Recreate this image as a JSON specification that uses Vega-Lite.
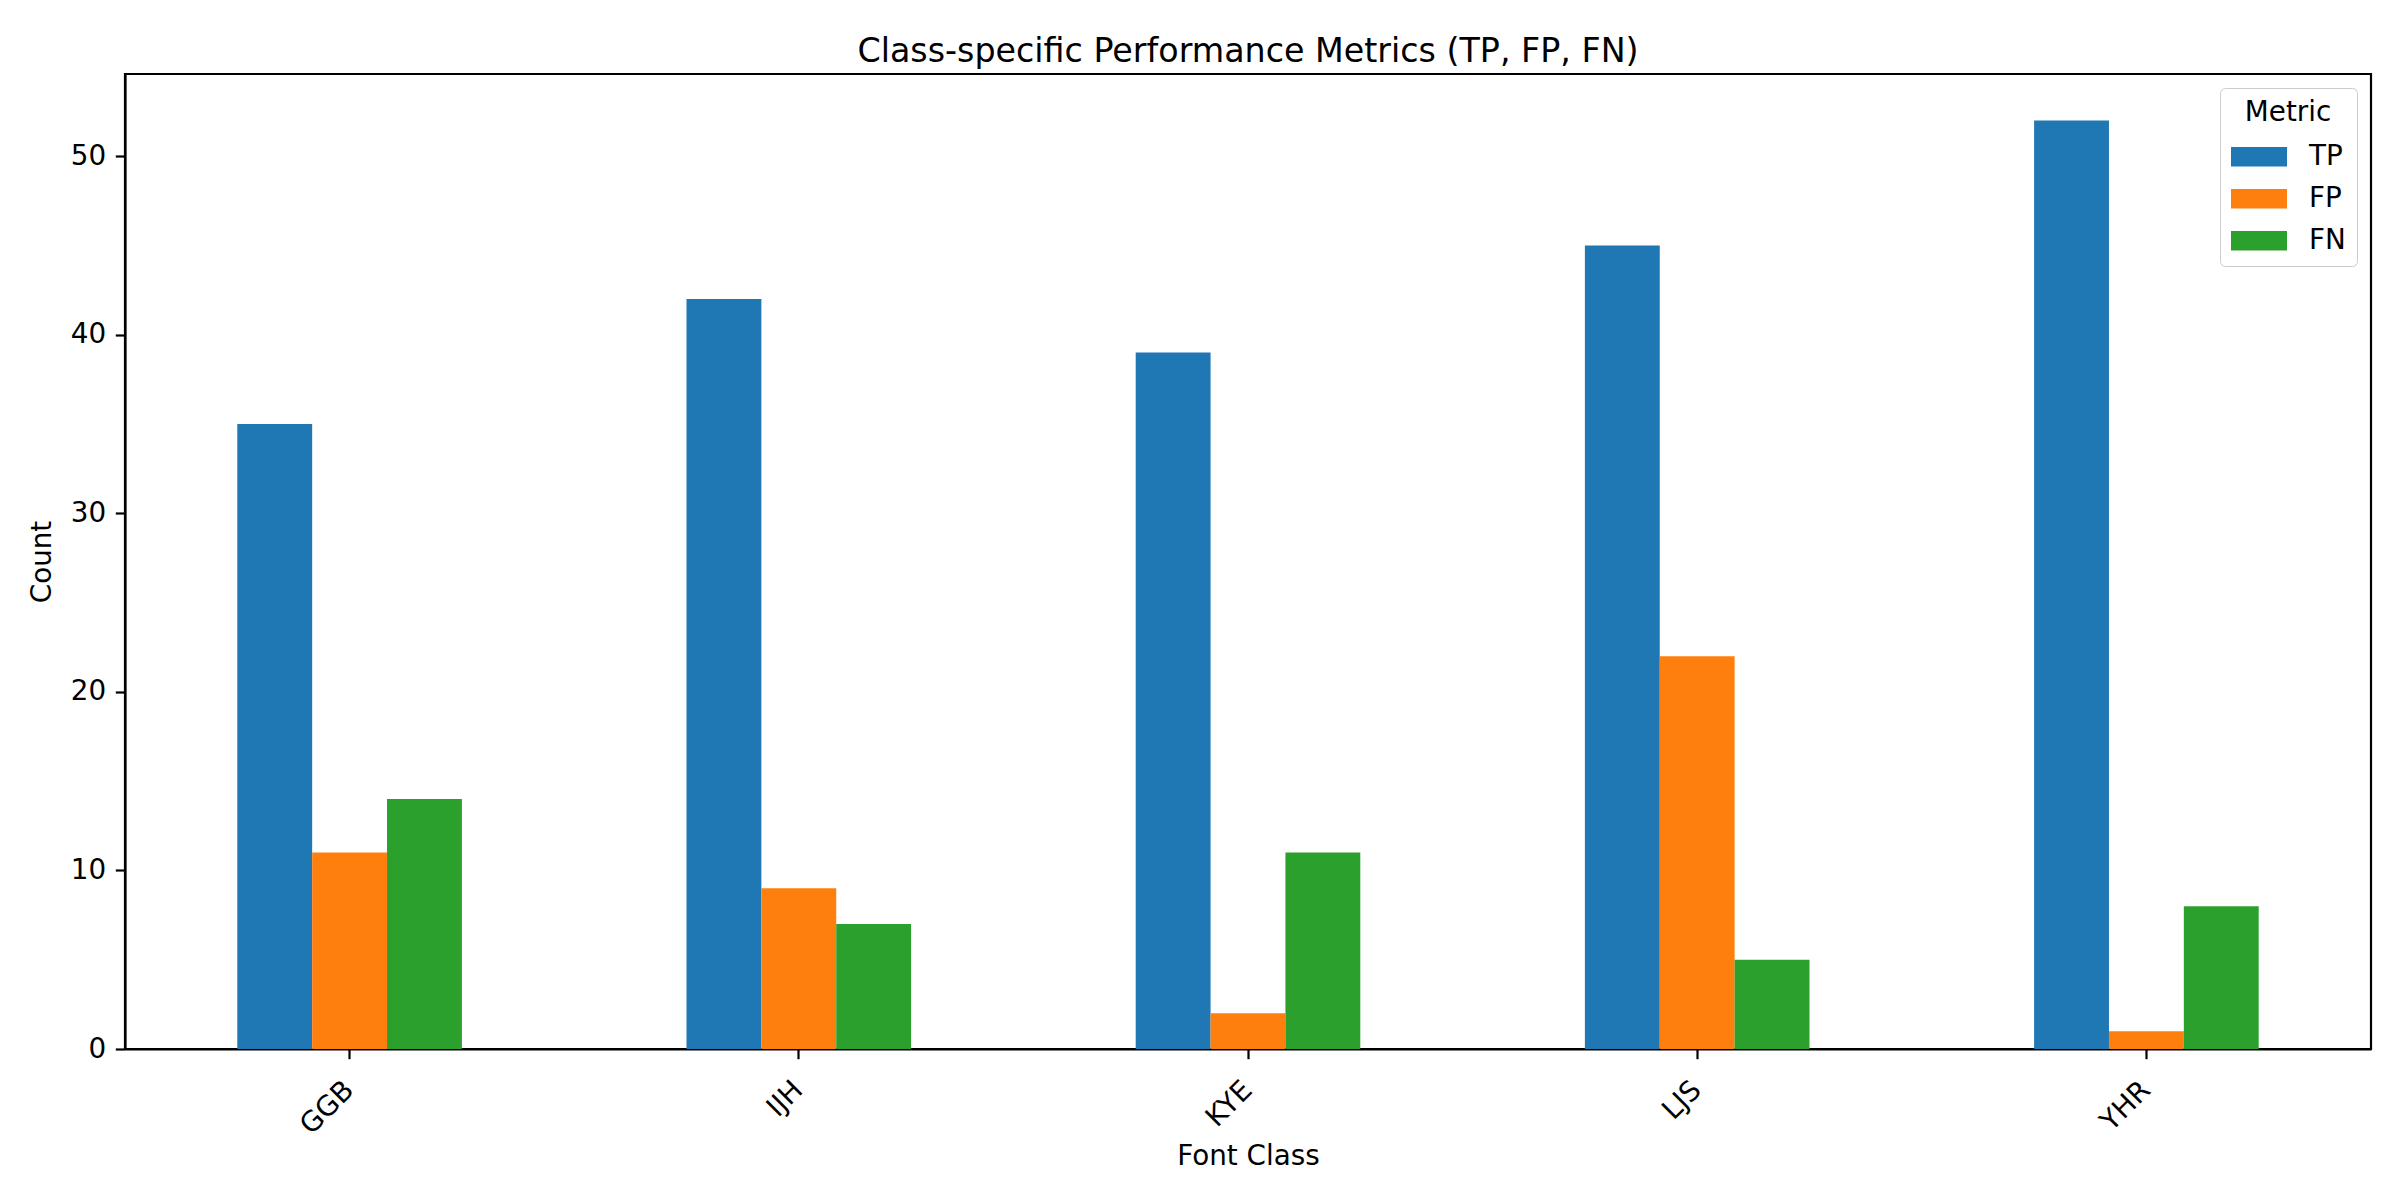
{
  "$schema": "https://vega.github.io/schema/vega-lite/v6.json",
  "width": 2246,
  "height": 975,
  "autosize": {"type": "none"},
  "padding": {"left": 125, "top": 74, "right": 29, "bottom": 151},
  "background": "white",
  "config": {
    "font": "DejaVu Sans",
    "view": {"stroke": "black", "strokeWidth": 2.2},
    "axis": {
      "grid": false,
      "domainColor": "black",
      "domainWidth": 2.2,
      "tickColor": "black",
      "tickWidth": 2.2,
      "tickSize": 9.7,
      "labelFont": "DejaVu Sans",
      "labelFontSize": 27.8,
      "labelColor": "black",
      "titleFont": "DejaVu Sans",
      "titleFontSize": 27.8,
      "titleFontWeight": "normal",
      "titleColor": "black"
    }
  },
  "title": {
    "text": "Class-specific Performance Metrics (TP, FP, FN)",
    "font": "DejaVu Sans",
    "fontSize": 33.3,
    "fontWeight": "normal",
    "color": "black",
    "anchor": "middle",
    "baseline": "bottom",
    "offset": 9,
    "dy": 37
  },
  "data": {
    "values": [
      {"cls": "GGB", "metric": "TP", "count": 35},
      {"cls": "GGB", "metric": "FP", "count": 11},
      {"cls": "GGB", "metric": "FN", "count": 14},
      {"cls": "IJH", "metric": "TP", "count": 42},
      {"cls": "IJH", "metric": "FP", "count": 9},
      {"cls": "IJH", "metric": "FN", "count": 7},
      {"cls": "KYE", "metric": "TP", "count": 39},
      {"cls": "KYE", "metric": "FP", "count": 2},
      {"cls": "KYE", "metric": "FN", "count": 11},
      {"cls": "LJS", "metric": "TP", "count": 45},
      {"cls": "LJS", "metric": "FP", "count": 22},
      {"cls": "LJS", "metric": "FN", "count": 5},
      {"cls": "YHR", "metric": "TP", "count": 52},
      {"cls": "YHR", "metric": "FP", "count": 1},
      {"cls": "YHR", "metric": "FN", "count": 8}
    ]
  },
  "mark": {"type": "bar"},
  "encoding": {
    "x": {
      "field": "cls",
      "type": "nominal",
      "sort": ["GGB", "IJH", "KYE", "LJS", "YHR"],
      "scale": {"paddingInner": 0.5, "paddingOuter": 0.25},
      "axis": {
        "title": "Font Class",
        "labelAngle": -45,
        "labelAlign": "right",
        "labelBaseline": "top",
        "labelPadding": 17,
        "labelOffset": -10,
        "titleBaseline": "alphabetic",
        "titleY": 115
      }
    },
    "xOffset": {
      "field": "metric",
      "type": "nominal",
      "sort": ["TP", "FP", "FN"],
      "scale": {"paddingInner": 0, "paddingOuter": 0}
    },
    "y": {
      "field": "count",
      "type": "quantitative",
      "scale": {"domain": [0, 54.6], "nice": false, "zero": true},
      "axis": {
        "title": "Count",
        "values": [0, 10, 20, 30, 40, 50],
        "labelPadding": 9.7,
        "titleBaseline": "alphabetic",
        "titleX": -75
      }
    },
    "color": {
      "field": "metric",
      "type": "nominal",
      "sort": ["TP", "FP", "FN"],
      "scale": {"domain": ["TP", "FP", "FN"], "range": ["#1f77b4", "#ff7f0e", "#2ca02c"]},
      "legend": {
        "title": "Metric",
        "orient": "top-right",
        "offset": 14,
        "padding": 11,
        "strokeColor": "#cccccc",
        "fillColor": "white",
        "cornerRadius": 5,
        "titleFont": "DejaVu Sans",
        "titleFontSize": 27.8,
        "titleFontWeight": "normal",
        "titleColor": "black",
        "titleAnchor": "middle",
        "titlePadding": 2,
        "labelFont": "DejaVu Sans",
        "labelFontSize": 27.8,
        "labelColor": "black",
        "labelOffset": 22,
        "symbolType": "M-1,-0.35H1V0.35H-1Z",
        "symbolSize": 3136,
        "symbolStrokeWidth": 0,
        "symbolOpacity": 1,
        "rowPadding": -14
      }
    }
  }
}
